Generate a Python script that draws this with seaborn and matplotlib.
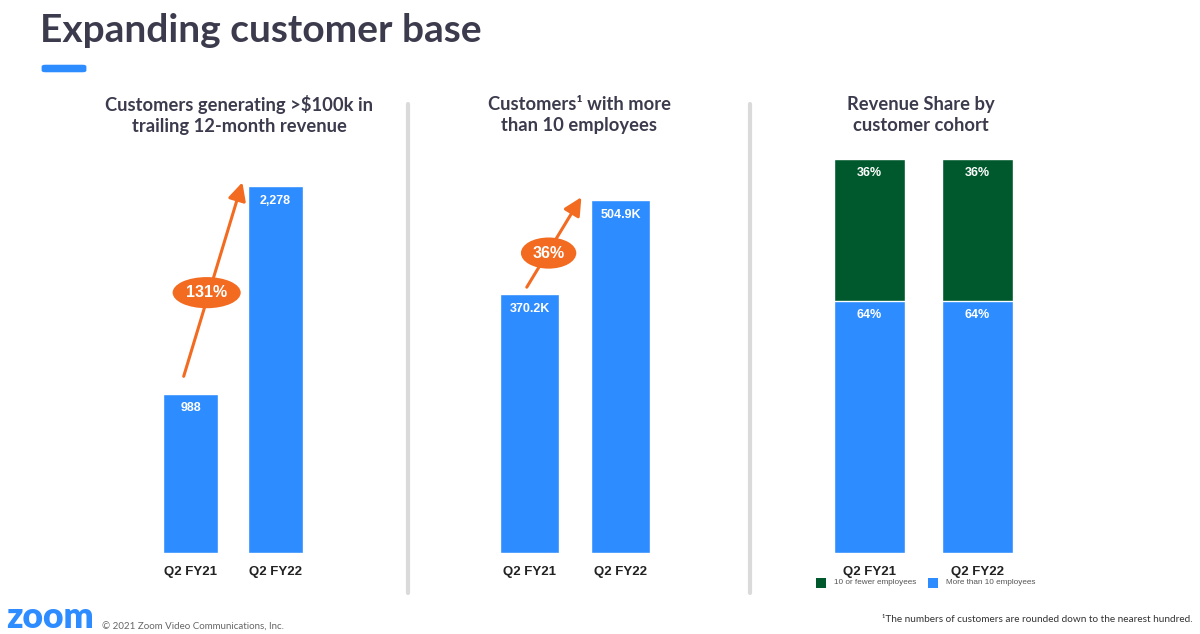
"""
Expanding customer base - three bar panels
"""
import seaborn as sns
import pandas as pd
import matplotlib.pyplot as plt
from matplotlib.patches import FancyBboxPatch, Rectangle

# Data
quarters = ["Q2 FY21", "Q2 FY22"]
big_customers = [988, 2278]
big_labels = ["988", "2,278"]
big_growth = "131%"
emp_customers = [370.2, 504.9]
emp_labels = ["370.2K", "504.9K"]
emp_growth = "36%"
share_small = [36, 36]
share_large = [64, 64]
cohorts = ["10 or fewer employees", "More than 10 employees"]

BLUE = "#2D8CFF"
GREEN = "#00592D"
ORANGE = "#F26B21"
DARK = "#3c3b4d"

W, H = 1200, 634


def px_axes(fig, left, top, width, height):
    # Axes placed with pixel coordinates measured from top left.
    return fig.add_axes([left / W, 1 - (top + height) / H, width / W, height / H])


def bar_panel(ax, values, labels, ymax, color=BLUE):
    df = pd.DataFrame({"Quarter": quarters, "Value": values})
    sns.barplot(data=df, x="Quarter", y="Value", color=color, width=0.65,
                saturation=1, ax=ax)
    ax.set_xlim(-0.5, 1.5)
    ax.set_ylim(0, ymax)
    for i, (v, lab) in enumerate(zip(values, labels)):
        ax.annotate(lab, (i, v), xytext=(0, -10.5), textcoords="offset points",
                    ha="center", va="center", color="white", fontsize=9,
                    fontweight="bold", family="Liberation Sans")
    clean(ax)


def clean(ax):
    sns.despine(ax=ax, left=True, bottom=True)
    ax.set_yticks([])
    ax.set_xlabel("")
    ax.set_ylabel("")
    ax.tick_params(axis="x", length=0, pad=9)
    for t in ax.get_xticklabels():
        t.set_fontfamily("Liberation Sans")
        t.set_fontweight("bold")
        t.set_fontsize(9.5)
        t.set_color("#222222")


def growth_arrow(ax, start, end, mid, text, fs):
    ax.annotate("", xy=end, xytext=start,
                arrowprops=dict(arrowstyle="-|>,head_length=0.9,head_width=0.45",
                                color=ORANGE, lw=2.2, shrinkA=0, shrinkB=0))
    ax.text(mid[0], mid[1], text, ha="center", va="center", color="white",
            fontsize=fs, fontweight="bold", family="Liberation Sans",
            bbox=dict(boxstyle="ellipse,pad=0.22", fc=ORANGE, ec="none"))


sns.set_theme(style="white")
plt.rcParams["font.family"] = ["Lato", "DejaVu Sans"]

fig = plt.figure(figsize=(12, 6.34), dpi=100)

# Title and underline
fig.text(40 / W, 1 - 30 / H, "Expanding customer base", fontsize=28,
         fontweight="bold", color=DARK, va="center", ha="left")
fig.patches.append(FancyBboxPatch((44 / W, 1 - 71 / H), 40 / W, 5 / H,
                                  boxstyle="round,pad=0.002,rounding_size=0.003",
                                  transform=fig.transFigure, fc=BLUE, ec="none"))

# Panel subtitles
subtitles = [(239, "Customers generating >$100k in\ntrailing 12-month revenue"),
             (579, "Customers¹ with more\nthan 10 employees"),
             (921, "Revenue Share by\ncustomer cohort")]
for x, s in subtitles:
    fig.text(x / W, 1 - 115 / H, s, ha="center", va="center", fontsize=13.2,
             fontweight="bold", color=DARK, linespacing=1.28)

# Separators
for x in (408, 750):
    fig.lines.append(plt.Line2D([x / W, x / W], [1 - 104 / H, 1 - 593 / H],
                                transform=fig.transFigure, color="#dadada", lw=3))

# Panel 1
ax1 = px_axes(fig, 148, 153, 170, 400)
bar_panel(ax1, big_customers, big_labels, big_customers[1] * 400 / 367)
growth_arrow(ax1, (-0.08, big_customers[0] * 1.11), (0.61, big_customers[1] * 1.01),
             (0.19, 1616), big_growth, 11.5)

# Panel 2
ax2 = px_axes(fig, 484, 153, 182, 400)
bar_panel(ax2, emp_customers, emp_labels, emp_customers[1] * 400 / 353)
growth_arrow(ax2, (-0.03, emp_customers[0] * 1.027), (0.57, emp_customers[1] * 1.008),
             (0.21, 429), emp_growth, 11.5)

# Panel 3 - stacked shares
ax3 = px_axes(fig, 815.5, 153, 216, 400)
total = [s + l for s, l in zip(share_small, share_large)]
df_tot = pd.DataFrame({"Quarter": quarters, "Value": total})
df_large = pd.DataFrame({"Quarter": quarters, "Value": share_large})
sns.barplot(data=df_tot, x="Quarter", y="Value", color=GREEN, width=0.66,
            saturation=1, ax=ax3)
sns.barplot(data=df_large, x="Quarter", y="Value", color=BLUE, width=0.66,
            saturation=1, ax=ax3)
ax3.set_xlim(-0.5, 1.5)
ax3.set_ylim(0, 100 * 400 / 394)
for i in range(len(quarters)):
    for top, v in ((total[i], share_small[i]), (share_large[i], share_large[i])):
        ax3.annotate(f"{v}%", (i, top), xytext=(0, -10), textcoords="offset points",
                     ha="center", va="center", color="white", fontsize=9,
                     fontweight="bold", family="Liberation Sans")
clean(ax3)

# Legend for panel 3
for x0, col, lab in ((816, GREEN, cohorts[0]), (928, BLUE, cohorts[1])):
    fig.patches.append(Rectangle((x0 / W, 1 - 588 / H), 10 / W, 10 / H,
                                 transform=fig.transFigure, fc=col, ec="none"))
    fig.text((x0 + 18) / W, 1 - 583 / H, lab, fontsize=5.9, color="#555555",
             va="center", ha="left", family="Liberation Sans")

# Footer
fig.text(6 / W, 1 - 633.5 / H, "zoom", fontsize=25.5, fontweight="heavy",
         color=BLUE, va="bottom", ha="left")
fig.text(102 / W, 1 - 627 / H, "© 2021 Zoom Video Communications, Inc.",
         fontsize=7, color="#666666", va="center", ha="left")
fig.text(1193 / W, 1 - 619 / H,
         "¹The numbers of customers are rounded down to the nearest hundred.",
         fontsize=7.2, color="#333333", va="center", ha="right")

plt.savefig("out.png", dpi=100)
